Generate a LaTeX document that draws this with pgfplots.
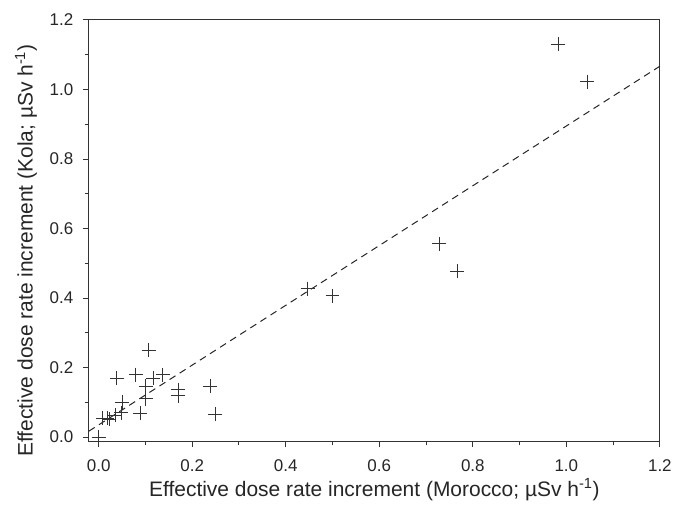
\documentclass[border=0pt]{standalone}
\usepackage{fontspec}
\setmainfont{Liberation Sans}
\usepackage{pgfplots}
\pgfplotsset{compat=1.18}

\begin{document}
\begin{tikzpicture}
\begin{axis}[
  scale only axis,
  width=572pt, height=422pt,
  xmin=-0.021, xmax=1.2,
  ymin=-0.012, ymax=1.2,
  axis line style={line width=1pt, black!80},
  xtick={0,0.2,...,1.2}, ytick={0,0.2,...,1.2},
  minor x tick num=1, minor y tick num=1,
  tick align=outside,
  xtick pos=bottom, ytick pos=left,
  major tick length=6pt, minor tick length=4pt,
  tick style={line width=1pt, black!80},
  /pgf/number format/fixed, /pgf/number format/fixed zerofill,
  /pgf/number format/precision=1,
  /pgf/number format/assume math mode=true,
  ticklabel style={font=\fontsize{17}{20}\selectfont, text=black!85},
  xticklabel style={yshift=-9pt},
  yticklabel style={xshift=-6pt},
  xlabel={Effective dose rate increment (Morocco; µSv h\textsuperscript{-1})},
  ylabel={Effective dose rate increment (Kola; µSv h\textsuperscript{-1})},
  label style={font=\fontsize{21}{24}\selectfont, text=black!85},
  ylabel style={at={(ticklabel cs:0.453)}, yshift=6pt},
  clip=true,
]
\addplot[only marks, mark=+, mark size=7pt, mark options={line width=0.9pt, black!80}]
  coordinates {
  (0.000,0.000) (0.009,0.054) (0.018,0.054) (0.023,0.052) (0.035,0.063)
  (0.048,0.070) (0.050,0.100) (0.039,0.170) (0.079,0.180) (0.089,0.068)
  (0.101,0.146) (0.101,0.110) (0.107,0.250) (0.117,0.170) (0.137,0.179)
  (0.170,0.136) (0.170,0.119) (0.238,0.146) (0.249,0.066)
  (0.447,0.427) (0.500,0.407) (0.728,0.556) (0.767,0.477)
  (0.983,1.130) (1.045,1.022)
  };
\addplot[dashed, line width=1pt, black!85, dash pattern=on 7pt off 5pt]
  coordinates {(-0.021,0.017) (1.2,1.067)};
\end{axis}
\path ([xshift=-89pt,yshift=-65pt]current axis.south west) rectangle ([xshift=14pt,yshift=20pt]current axis.north east);
\end{tikzpicture}
\end{document}
